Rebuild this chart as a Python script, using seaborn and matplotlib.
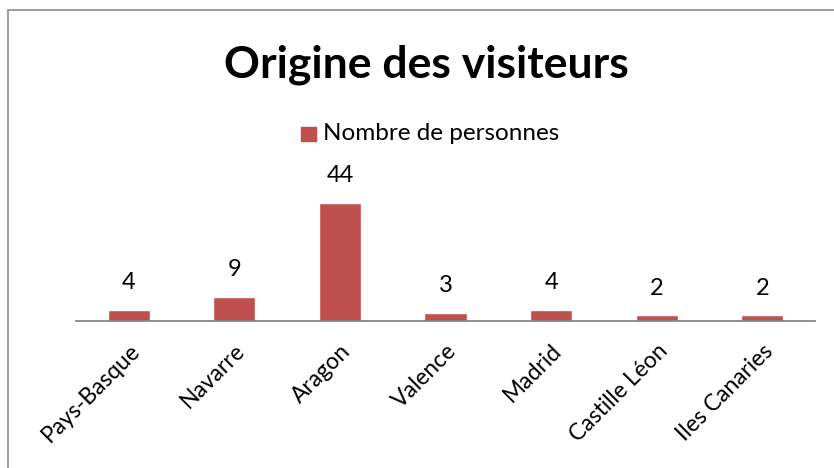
import matplotlib
matplotlib.use("Agg")
import matplotlib.pyplot as plt
import seaborn as sns
import pandas as pd
from matplotlib.patches import Rectangle
from matplotlib.lines import Line2D

categories = ["Pays-Basque", "Navarre", "Aragon", "Valence", "Madrid", "Castille Léon", "Iles Canaries"]
values = [4, 9, 44, 3, 4, 2, 2]
series_name = "Nombre de personnes"
title = "Origine des visiteurs"

sns.set_theme(style="white")
plt.rcParams['font.family'] = ['Lato', 'DejaVu Sans']

W, H = 834, 468
fig = plt.figure(figsize=(W / 100, H / 100), dpi=100)
fig.patch.set_facecolor("white")

# chart border (top and left visible)
fig.add_artist(Line2D([8 / W, 8 / W], [0, 1 - 10 / H], transform=fig.transFigure, color="#8c8c8c", lw=1.2))
fig.add_artist(Line2D([8 / W, 1], [1 - 10 / H, 1 - 10 / H], transform=fig.transFigure, color="#8c8c8c", lw=1.2))

x0, x1 = 76, 815
ybot = 320.7
px_per_unit = 118 / 44
ymax = 50
ytop = ybot - ymax * px_per_unit
ax = fig.add_axes([x0 / W, 1 - ybot / H, (x1 - x0) / W, (ybot - ytop) / H])

df = pd.DataFrame({"cat": categories, "val": values})
sns.barplot(data=df, x="cat", y="val", color="#C0504D", saturation=1, width=0.4, ax=ax)
ax.set_ylim(0, ymax)
ax.set_xlim(-0.5, len(categories) - 0.5)
for c in ax.containers:
    ax.bar_label(c, labels=[str(v) for v in values], padding=12, fontsize=17, color="black")

for s in ["top", "right", "left"]:
    ax.spines[s].set_visible(False)
ax.spines["bottom"].set_color("#868686")
ax.spines["bottom"].set_linewidth(1.3)
ax.set_yticks([])
ax.set_xlabel("")
ax.set_ylabel("")
ax.tick_params(axis="x", length=0, pad=14)
ax.set_xticks(range(len(categories)))
ax.set_xticklabels(categories, rotation=45, ha="right", rotation_mode="anchor", fontsize=16.5, color="black")

fig.text(426 / W, 1 - 65 / H, title, ha="center", va="center", fontsize=32, fontweight="bold", color="black")
fig.add_artist(Rectangle((301 / W, 1 - 141 / H), 15 / W, 14 / H, transform=fig.transFigure, color="#C0504D"))
fig.text(323 / W, 1 - 133 / H, series_name, ha="left", va="center", fontsize=17.5, color="black")

fig.savefig("out.png", dpi=100)
